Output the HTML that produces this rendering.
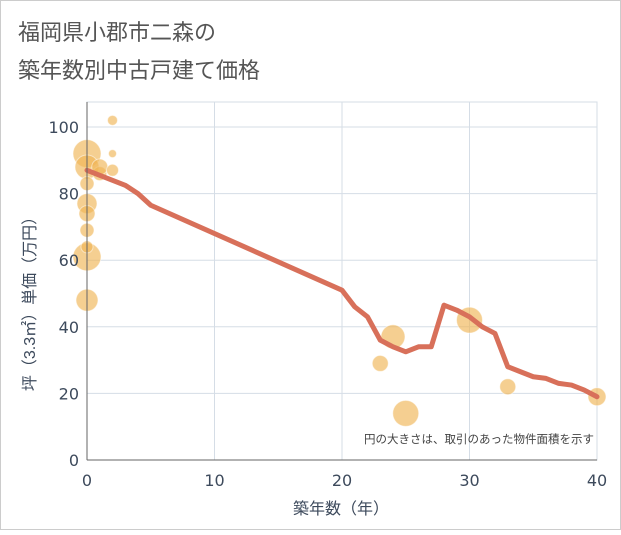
<!DOCTYPE html>
<html><head><meta charset="utf-8"><style>
body{margin:0;background:#fff;}
svg text{font-family:"Liberation Sans","Noto Sans CJK JP",sans-serif;}
svg text.tick{font-family:"DejaVu Sans","Liberation Sans",sans-serif;}
</style></head><body>
<svg width="621" height="530" viewBox="0 0 621 530">
<rect x="0.5" y="0.5" width="620" height="529" fill="#fff" stroke="#ccc"/>
<text x="18" y="40" font-size="22" fill="#555">福岡県小郡市二森の</text>
<text x="18" y="78" font-size="22" fill="#555">築年数別中古戸建て価格</text>
<g id="grid"></g>
<g id="bubbles"></g>
<g id="line"></g>
<g id="axes"></g>
<text x="594" y="443" font-size="11.5" fill="#444" text-anchor="end">円の大きさは、取引のあった物件面積を示す</text>
<text x="341" y="514" font-size="16" fill="#3d4a5c" text-anchor="middle">築年数（年）</text>
<text transform="translate(35,300) rotate(-90)" font-size="16" fill="#3d4a5c" text-anchor="middle">坪（3.3㎡）単価（万円）</text>
</svg>
<script>
const xTicks=[0,10,20,30,40];
const yTicks=[0,20,40,60,80,100];
const lineYears=[0,1,2,3,4,5,20,21,22,23,24,25,26,27,28,29,30,31,32,33,34,35,36,37,38,39,40];
const linePrices=[87,85.5,84,82.5,80,76.5,51,46,43,36,34,32.5,34,34,46.5,45,43,40,38,28,26.5,25,24.5,23,22.5,21,19];
const bubbleYears=[0,0,0,0,0,0,0,0,0,1,1,2,2,2,24,23,25,30,33,40];
const bubblePrices=[92,88,83,77,74,69,61,64,48,86,88,102,92,87,37,29,14,42,22,19];
const bubbleSizes=[14,12,7,10,8,7,14,6,11,7,8,5,4,6,12,8,13,13,8,9];
const NS='http://www.w3.org/2000/svg';
const X0=87,X1=597,Y0=460,Y1=127;
const xs=v=>X0+(v-0)/40*(X1-X0);
const ys=v=>Y0-(v/100)*(Y0-Y1);
function mk(t,a,p){const e=document.createElementNS(NS,t);for(const k in a)e.setAttribute(k,a[k]);p.appendChild(e);return e;}
const grid=document.getElementById('grid'),axes=document.getElementById('axes');
yTicks.forEach(v=>{if(v>0){const l=mk('line',{x1:X0,x2:X1,y1:ys(v),y2:ys(v),stroke:'#d5dde6'},grid);

}
const t=mk('text',{x:X0-8,y:ys(v)+6,'font-size':16,fill:'#3d4a5c','text-anchor':'end','class':'tick'},axes);t.textContent=v;

});
xTicks.forEach(v=>{if(v>0){const l=mk('line',{x1:xs(v),x2:xs(v),y1:Y1-25,y2:Y0,stroke:'#d5dde6'},grid);

}
const t=mk('text',{x:xs(v),y:Y0+26,'font-size':16,fill:'#3d4a5c','text-anchor':'middle','class':'tick'},axes);t.textContent=v;

});
const fr=mk('rect',{x:X0,y:Y1-25,width:X1-X0,height:Y0-Y1+25,fill:'none',stroke:'#d5dde6'},grid);


const ax=mk('line',{x1:X0,x2:X0,y1:Y1-25,y2:Y0,stroke:'#666'},axes);


const ax2=mk('line',{x1:X0,x2:X1,y1:Y0,y2:Y0,stroke:'#666'},axes);


const bg=document.getElementById('bubbles');
bubbleYears.forEach((yr,i)=>{const c=mk('circle',{cx:xs(yr),cy:ys(bubblePrices[i]),r:bubbleSizes[i],fill:'#f0b656','fill-opacity':0.65,stroke:'#fff','stroke-opacity':0.5},bg);

});
const pts=lineYears.map((y,i)=>xs(y)+','+ys(linePrices[i])).join(' ');
const pl=mk('polyline',{points:pts,fill:'none',stroke:'#d8705a','stroke-width':5,'stroke-linejoin':'round','stroke-linecap':'round'},document.getElementById('line'));


</script>
</body></html>
